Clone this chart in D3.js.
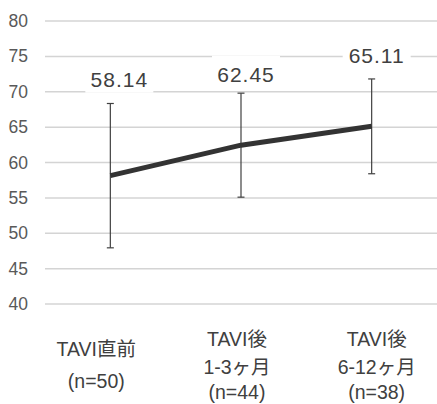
<!DOCTYPE html>
<html>
<head>
<meta charset="utf-8">
<script src="https://cdn.jsdelivr.net/npm/d3@7"></script>
<style>
  html, body { margin: 0; padding: 0; background: #fff; }
  svg { display: block; }
  text { font-family: "Liberation Sans", "Noto Sans CJK JP", sans-serif; }
</style>
</head>
<body>
<svg id="chart" width="437" height="404"></svg>
<script>
// ---- data ----
const categories = ["TAVI直前", "TAVI後 1-3ヶ月", "TAVI後 6-12ヶ月"];
const categoryLines = [
  ["TAVI直前", "(n=50)"],
  ["TAVI後", "1-3ヶ月", "(n=44)"],
  ["TAVI後", "6-12ヶ月", "(n=38)"]
];
const means = [58.14, 62.45, 65.11];
const sds = [10.2, 7.35, 6.7];
const valueLabels = ["58.14", "62.45", "65.11"];
const yTicks = [40, 45, 50, 55, 60, 65, 70, 75, 80];

// ---- layout ----
const svg = d3.select("#chart");
const x = d3.scalePoint().domain(categories).range([45, 437]).padding(0.5);
const y = d3.scaleLinear().domain([40, 80]).range([304, 21]);

// gridlines
svg.append("g")
  .selectAll("line")
  .data(yTicks)
  .join("line")
  .attr("x1", 45).attr("x2", 437)
  .attr("y1", d => y(d)).attr("y2", d => y(d))
  .attr("stroke", "#d4d4d4")
  .attr("stroke-width", 1.5);

// y tick labels
const yAxis = svg.append("g")
  .attr("transform", "translate(38,0)")
  .call(d3.axisLeft(y).tickValues(yTicks).tickSize(0).tickPadding(10));
yAxis.attr("font-family", null).attr("font-size", null);
yAxis.select(".domain").remove();
yAxis.selectAll("text")
  .attr("fill", "#595959")
  .attr("font-size", 17.5);

// error bars
const capHalf = 3.5;
const eb = svg.append("g").attr("stroke", "#404040").attr("stroke-width", 1.2);
categories.forEach((c, i) => {
  const cx = x(c);
  const top = y(means[i] + sds[i]);
  const bot = y(means[i] - sds[i]);
  eb.append("line").attr("x1", cx).attr("x2", cx).attr("y1", top).attr("y2", bot);
  eb.append("line").attr("x1", cx - capHalf).attr("x2", cx + capHalf).attr("y1", top).attr("y2", top);
  eb.append("line").attr("x1", cx - capHalf).attr("x2", cx + capHalf).attr("y1", bot).attr("y2", bot);
});

// mean line
const line = d3.line().x((d, i) => x(categories[i])).y(d => y(d));
svg.append("path")
  .datum(means)
  .attr("d", line)
  .attr("fill", "none")
  .attr("stroke", "#333333")
  .attr("stroke-width", 5)
  .attr("stroke-linejoin", "round");

// value labels with white boxes that break the gridlines
const labelDx = [9, 5, 5];
const labelDy = [-89, -63.5, -63];
const lg = svg.append("g");
categories.forEach((c, i) => {
  const g = lg.append("g");
  const tx = x(c) + labelDx[i];
  const ty = y(means[i]) + labelDy[i];
  g.append("rect").attr("fill", "#fff")
    .attr("x", tx - 34).attr("width", 68)
    .attr("y", ty - 26).attr("height", 32);
  g.append("text")
    .attr("x", tx).attr("y", ty)
    .attr("text-anchor", "middle")
    .attr("fill", "#404040")
    .attr("font-size", 21)
    .attr("letter-spacing", 1)
    .text(valueLabels[i]);
});

// category labels
const catDx = [-14, -4, 5];
const catBaselines = [[356, 388], [346, 374, 399], [346, 374, 399]];
const cg = svg.append("g");
categories.forEach((c, i) => {
  categoryLines[i].forEach((ln, j) => {
    cg.append("text")
      .attr("x", x(c) + catDx[i])
      .attr("y", catBaselines[i][j])
      .attr("text-anchor", "middle")
      .attr("fill", "#404040")
      .attr("font-size", 19.5)
      .text(ln);
  });
});
</script>
</body>
</html>
